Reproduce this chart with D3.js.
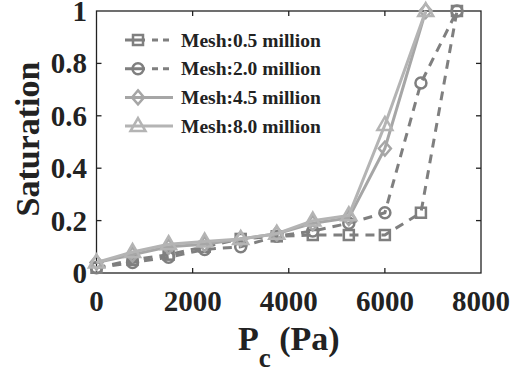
<!DOCTYPE html>
<html>
<head>
<meta charset="utf-8">
<script src="https://cdn.jsdelivr.net/npm/d3@7"></script>
<style>
  body { margin: 0; background: #fff; }
  text { font-family: "Liberation Serif", "Times New Roman", serif; font-weight: bold; }
</style>
</head>
<body>
<svg width="513" height="370"></svg>
<script>
var svg = d3.select("svg");

var pc = [0, 750, 1500, 2250, 3000, 3750, 4500, 5250, 6000, 6750, 7500];
var pcFine = [0, 750, 1500, 2250, 3000, 3750, 4500, 5250, 6000, 6850];

var mesh05 = [0.02, 0.05, 0.07, 0.10, 0.13, 0.14, 0.145, 0.145, 0.145, 0.23, 1.0];
var mesh20 = [0.02, 0.04, 0.06, 0.09, 0.10, 0.14, 0.16, 0.19, 0.23, 0.725, 1.0];
var mesh45 = [0.04, 0.07, 0.10, 0.11, 0.13, 0.15, 0.19, 0.21, 0.475, 1.0];
var mesh80 = [0.04, 0.08, 0.11, 0.12, 0.13, 0.15, 0.20, 0.22, 0.565, 1.0];

var xTicks = [0, 2000, 4000, 6000, 8000];
var yTicks = [0, 0.2, 0.4, 0.6, 0.8, 1];

var series = [
  { name: "Mesh:0.5 million", xs: pc, ys: mesh05, color: "#7f7f7f", dash: "9,7", marker: "square" },
  { name: "Mesh:2.0 million", xs: pc, ys: mesh20, color: "#7f7f7f", dash: "9,7", marker: "circle" },
  { name: "Mesh:4.5 million", xs: pcFine, ys: mesh45, color: "#a6a6a6", dash: null, marker: "diamond" },
  { name: "Mesh:8.0 million", xs: pcFine, ys: mesh80, color: "#b4b4b4", dash: null, marker: "triangle" }
];

var plotL = 96.5, plotR = 481, plotT = 11, plotB = 273;

var x = d3.scaleLinear().domain([0, 8000]).range([plotL, plotR]);
var y = d3.scaleLinear().domain([0, 1]).range([plotB, plotT]);

// frame
svg.append("rect")
  .attr("x", plotL).attr("y", plotT)
  .attr("width", plotR - plotL).attr("height", plotB - plotT)
  .attr("fill", "none").attr("stroke", "#222").attr("stroke-width", 1.3);

// inward ticks on all four sides
var tickLen = 5;
var tk = svg.append("g").attr("stroke", "#222").attr("stroke-width", 1.3);
xTicks.slice(1, -1).forEach(function(t) {
  tk.append("line").attr("x1", x(t)).attr("x2", x(t)).attr("y1", plotB).attr("y2", plotB - tickLen);
  tk.append("line").attr("x1", x(t)).attr("x2", x(t)).attr("y1", plotT).attr("y2", plotT + tickLen);
});
yTicks.slice(1, -1).forEach(function(t) {
  tk.append("line").attr("x1", plotL).attr("x2", plotL + tickLen).attr("y1", y(t)).attr("y2", y(t));
  tk.append("line").attr("x1", plotR).attr("x2", plotR - tickLen).attr("y1", y(t)).attr("y2", y(t));
});

// tick labels
svg.append("g").selectAll("text").data(xTicks).enter().append("text")
  .attr("x", function(d) { return x(d); })
  .attr("y", 311)
  .attr("text-anchor", "middle")
  .attr("font-size", 29)
  .attr("fill", "#222")
  .text(function(d) { return d; });

svg.append("g").selectAll("text").data(yTicks).enter().append("text")
  .attr("x", 87)
  .attr("y", function(d) { return y(d) + 10; })
  .attr("text-anchor", "end")
  .attr("font-size", 29)
  .attr("fill", "#222")
  .text(function(d) { return d; });

// axis titles
var xl = svg.append("text")
  .attr("x", 238).attr("y", 350)
  .attr("font-size", 34)
  .attr("fill", "#222");
xl.append("tspan").text("P");
xl.append("tspan").attr("dy", 17).attr("font-size", 27).text("c");
xl.append("tspan").attr("dy", -17).text(" (Pa)");

svg.append("text")
  .attr("transform", "translate(39,139) rotate(-90)")
  .attr("text-anchor", "middle")
  .attr("font-size", 34)
  .attr("fill", "#222")
  .text("Saturation");

// markers
function drawMarker(g, kind, cx, cy, color) {
  var r = 5;
  if (kind === "square") {
    g.append("rect").attr("x", cx - r).attr("y", cy - r).attr("width", 2 * r).attr("height", 2 * r)
      .attr("fill", "none").attr("stroke", color).attr("stroke-width", 2.5);
  } else if (kind === "circle") {
    g.append("circle").attr("cx", cx).attr("cy", cy).attr("r", r + 0.5)
      .attr("fill", "none").attr("stroke", color).attr("stroke-width", 2.5);
  } else if (kind === "diamond") {
    g.append("path")
      .attr("d", "M" + cx + "," + (cy - 7) + "L" + (cx + 6) + "," + cy + "L" + cx + "," + (cy + 7) + "L" + (cx - 6) + "," + cy + "Z")
      .attr("fill", "none").attr("stroke", color).attr("stroke-width", 2.5);
  } else {
    g.append("path")
      .attr("d", "M" + cx + "," + (cy - 8) + "L" + (cx + 7.5) + "," + (cy + 5) + "L" + (cx - 7.5) + "," + (cy + 5) + "Z")
      .attr("fill", "none").attr("stroke", color).attr("stroke-width", 2.5);
  }
}

var line = d3.line()
  .x(function(d) { return x(d[0]); })
  .y(function(d) { return y(d[1]); });

series.forEach(function(s) {
  var pts = s.xs.map(function(v, i) { return [v, s.ys[i]]; });
  var g = svg.append("g");
  g.append("path")
    .datum(pts)
    .attr("d", line)
    .attr("fill", "none")
    .attr("stroke", s.color)
    .attr("stroke-width", 3)
    .attr("stroke-dasharray", s.dash);
  pts.forEach(function(p) { drawMarker(g, s.marker, x(p[0]), y(p[1]), s.color); });
});

// legend
var lg = svg.append("g");
series.forEach(function(s, i) {
  var ly = 40 + i * 28.7;
  lg.append("line")
    .attr("x1", 125).attr("x2", 173).attr("y1", ly).attr("y2", ly)
    .attr("stroke", s.color).attr("stroke-width", 3)
    .attr("stroke-dasharray", s.dash ? "20,7,6,5,6,5" : null);
  drawMarker(lg, s.marker, 138, ly, s.color);
  lg.append("text")
    .attr("x", 181).attr("y", ly + 6.5)
    .attr("font-size", 19.5)
    .attr("fill", "#222")
    .text(s.name);
});
</script>
</body>
</html>
